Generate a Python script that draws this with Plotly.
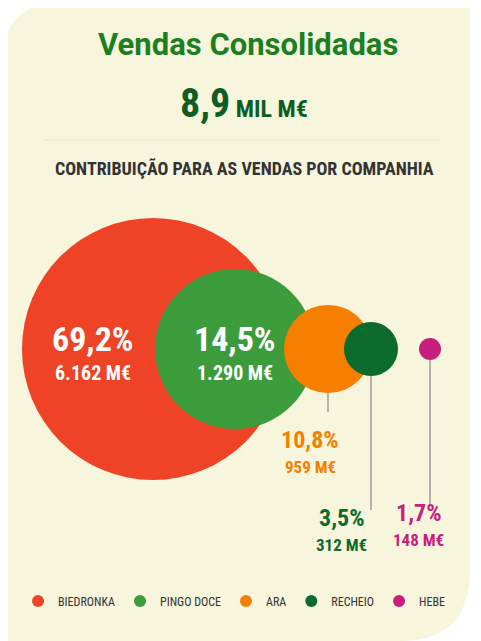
import plotly.graph_objects as go

companhias = ["BIEDRONKA", "PINGO DOCE", "ARA", "RECHEIO", "HEBE"]
percentagens = ["69,2%", "14,5%", "10,8%", "3,5%", "1,7%"]
vendas = ["6.162 M€", "1.290 M€", "959 M€", "312 M€", "148 M€"]
cores = ["#ee4326", "#3c9c3c", "#f77f00", "#0b6b2c", "#c81e7e"]

# layout (pixel space, y down)
cx = [153, 235, 328, 371, 430]
cy = 349
diam = [262, 160, 88, 54, 22]

W, H = 481, 641
OFF = 8  # page body margin
fig = go.Figure()

for i in range(len(companhias)):
    fig.add_trace(go.Scatter(
        x=[cx[i]], y=[cy], mode="markers", name=companhias[i],
        marker=dict(size=diam[i], color=cores[i], opacity=1, line=dict(width=0)),
        hoverinfo="name"))

F = "Liberation Sans Narrow, Roboto Condensed, Roboto"
for i, dx in [(0, -60), (1, 0)]:
    fig.add_annotation(x=cx[i] + dx, y=cy - 10, text="<b>%s</b>" % percentagens[i],
                       showarrow=False, font=dict(family=F, size=34, color="white"))
    fig.add_annotation(x=cx[i] + dx, y=cy + 24, text="<b>%s</b>" % vendas[i],
                       showarrow=False, font=dict(family=F, size=20, color="white"))

ext = [(2, 412, 310), (3, 510, 341), (4, 505, 418)]
for i, yend, lx in ext:
    fig.add_shape(type="line", x0=cx[i], x1=cx[i], y0=cy + diam[i] / 2, y1=yend,
                  line=dict(color="#888", width=1.2))
    ty = yend + 28 if i == 2 else yend + 8
    fig.add_annotation(x=lx, y=ty, text="<b>%s</b>" % percentagens[i], showarrow=False,
                       font=dict(family=F, size=24, color=cores[i]))
    fig.add_annotation(x=lx, y=ty + 27, text="<b>%s</b>" % vendas[i], showarrow=False,
                       font=dict(family=F, size=17, color=cores[i]))

fig.add_shape(type="path", layer="below", line=dict(width=0), fillcolor="#f7f5dc",
              path="M 0 70 Q 0 0 70 0 L 470 0 L 470 570 Q 470 641 400 641 L 0 641 Z")
fig.add_shape(type="line", x0=45, x1=440, y0=140, y1=140, line=dict(color="#e6e3c8", width=1))

fig.add_annotation(x=248, y=44, text="<b>Vendas Consolidadas</b>", showarrow=False,
                   font=dict(family="Roboto, Liberation Sans", size=31, color="#1c7f22"))
fig.add_annotation(x=244, y=103, showarrow=False,
                   text="<b><span style='font-size:40px'>8,9</span> MIL M€</b>",
                   font=dict(family=F, size=24, color="#0d5e23"))
fig.add_annotation(x=244, y=168, text="<b>CONTRIBUIÇÃO PARA AS VENDAS POR COMPANHIA</b>",
                   showarrow=False, font=dict(family=F, size=18, color="#333333"))

fig.update_xaxes(range=[OFF, W + OFF], visible=False, fixedrange=True)
fig.update_yaxes(range=[H + OFF, OFF], visible=False, fixedrange=True)
fig.update_layout(
    width=W, height=H, margin=dict(l=0, r=0, t=0, b=0),
    paper_bgcolor="white", plot_bgcolor="white",
    legend=dict(orientation="h", x=0.47, xanchor="center", y=0.075, yanchor="middle",
                itemsizing="constant", bgcolor="rgba(0,0,0,0)",
                font=dict(family=F, size=12, color="#333"), itemwidth=30),
)
fig.write_html("out.html")
